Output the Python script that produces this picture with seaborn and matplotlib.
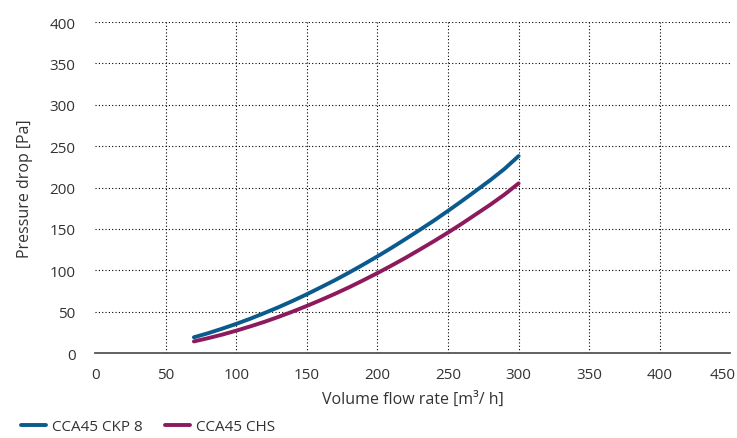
import matplotlib
matplotlib.use("Agg")
import matplotlib.pyplot as plt
import matplotlib.transforms as mtrans
import seaborn as sns
import pandas as pd
from matplotlib.lines import Line2D

flow = [70, 80, 90, 100, 110, 120, 130, 140, 150, 160, 170, 180, 190,
        200, 210, 220, 230, 240, 250, 260, 270, 280, 290, 300]
ckp8 = [19, 23.9, 29.4, 35.2, 41.5, 48.3, 55.4, 63.0, 71.0, 79.5, 88.1, 97.3,
        106.9, 116.8, 127.1, 137.8, 148.8, 160.0, 171.8, 183.9, 196.4, 209.0,
        222.5, 238]
chs = [14, 17.9, 22.2, 27.0, 32.2, 37.7, 43.7, 50.1, 56.9, 64.1, 71.6, 79.5,
       87.9, 96.6, 105.7, 115.1, 125.0, 135.1, 145.6, 156.5, 167.9, 179.3,
       191.5, 205]
series_names = ["CCA45 CKP 8", "CCA45 CHS"]
colors = ["#0b5a8e", "#8c1a5c"]
xticks = [0, 50, 100, 150, 200, 250, 300, 350, 400, 450]
yticks = [0, 50, 100, 150, 200, 250, 300, 350, 400]

df = pd.concat([
    pd.DataFrame({"flow": flow, "dp": ckp8, "series": series_names[0]}),
    pd.DataFrame({"flow": flow, "dp": chs, "series": series_names[1]}),
])

sns.set_style("white")
plt.rcParams["font.family"] = ["Open Sans", "DejaVu Sans"]
txt = "#333333"

fig = plt.figure(figsize=(7.37, 4.39), dpi=100)
ax = fig.add_axes([0.129, 0.1936, 0.862, 0.754])
sns.lineplot(data=df, x="flow", y="dp", hue="series", palette=colors,
             linewidth=2.8, ax=ax, legend=False)

ax.set_xlim(0, 450)
ax.set_ylim(0, 400)
ax.set_xticks(xticks)
ax.set_yticks(yticks)
ax.tick_params(axis="both", length=0, labelsize=11, colors=txt)
ax.tick_params(axis="y", pad=14)
ax.tick_params(axis="x", pad=10)
for sp in ["left", "top", "right"]:
    ax.spines[sp].set_visible(False)
ax.spines["bottom"].set_color("#555555")
ax.spines["bottom"].set_linewidth(1.3)

# shift last x tick label slightly left so it stays inside the figure
lbl = ax.get_xticklabels()[-1]
lbl.set_transform(lbl.get_transform() + mtrans.ScaledTranslation(-8 / 100, 0, fig.dpi_scale_trans))

for y in yticks[1:]:
    ax.axhline(y, color="black", linestyle=(0, (1, 2)), linewidth=0.8, zorder=0)
for x in xticks[1:-1]:
    ax.axvline(x, color="black", linestyle=(0, (1, 2)), linewidth=0.8, zorder=0)

ax.set_xlabel("Volume flow rate [m³/ h]", fontsize=11.5, color=txt, labelpad=6)
ax.set_ylabel("Pressure drop [Pa]", fontsize=11.5, color=txt, labelpad=12)

handles = [Line2D([0], [0], color=c, linewidth=2.8) for c in colors]
fig.legend(handles, series_names, loc="lower left", bbox_to_anchor=(0.01, -0.022),
           ncol=2, frameon=False, fontsize=11, handlelength=1.6, handletextpad=0.4,
           columnspacing=1.5, labelcolor=txt)

fig.savefig("out.png", dpi=100)
